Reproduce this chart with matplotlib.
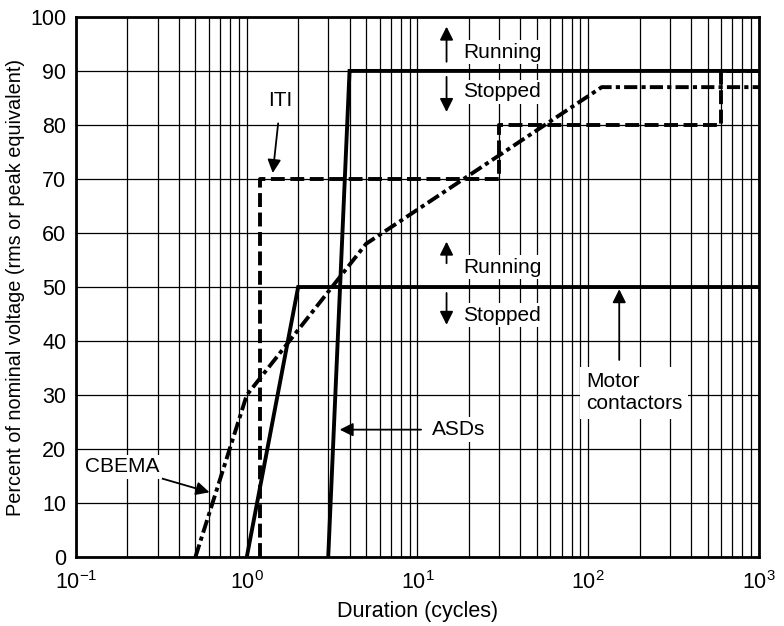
import numpy as np
import matplotlib.pyplot as plt

plt.rcParams['font.family'] = ['Liberation Sans', 'DejaVu Sans']
plt.rcParams['mathtext.fontset'] = 'custom'
plt.rcParams['mathtext.rm'] = 'Liberation Sans'
plt.rcParams['lines.scale_dashes'] = False

# curves (duration in cycles, percent of nominal voltage)
cbema_x = [0.5, 1.0, 5.0, 120, 1000]
cbema_y = [0, 30, 58, 87, 87]
iti_x = [1.2, 1.2, 30, 30, 600, 600, 1000]
iti_y = [0, 70, 70, 80, 80, 90, 90]
asd_x = [3.0, 4.0, 1000]
asd_y = [0, 90, 90]
motor_x = [1.0, 2.0, 1000]
motor_y = [0, 50, 50]

fig = plt.figure(figsize=(7.84, 6.26), dpi=100)
ax = fig.add_axes([0.097, 0.110, 0.871, 0.863])

ax.plot(asd_x, asd_y, color='k', lw=2.8, solid_joinstyle='miter', zorder=4)
ax.plot(motor_x, motor_y, color='k', lw=2.8, solid_joinstyle='miter', zorder=4)
ax.plot(iti_x, iti_y, color='k', lw=2.8, dashes=(10, 4), dash_capstyle='butt', zorder=4)
ax.plot(cbema_x, cbema_y, color='k', lw=2.8, dashes=(9.5, 3, 3, 3), dash_capstyle='butt', zorder=4)

ax.set_xscale('log')
ax.set_xlim(0.1, 1000)
ax.set_ylim(0, 100)
ax.set_yticks(np.arange(0, 101, 10))
ax.grid(True, which='both', axis='x', color='k', lw=0.9)
ax.grid(True, which='major', axis='y', color='k', lw=0.9)
ax.tick_params(which='both', length=0, labelsize=15.5)
ax.tick_params(axis='x', which='both', pad=10)
ax.tick_params(axis='y', which='both', pad=7)
for s in ax.spines.values():
    s.set_linewidth(2)
    s.set_zorder(5)

ax.set_xlabel('Duration (cycles)', fontsize=15.5, labelpad=5)
ax.set_ylabel('Percent of nominal voltage (rms or peak equivalent)', fontsize=14.3, labelpad=4)

box = dict(facecolor='white', edgecolor='none', pad=2)
arr = dict(arrowstyle='-|>', color='k', lw=1.3, mutation_scale=20, shrinkA=0, shrinkB=0)
fs = 15

# running / stopped markers
ax.text(18.5, 93.5, 'Running', fontsize=fs, va='center', ha='left', bbox=box, zorder=6)
ax.text(18.5, 86.1, 'Stopped', fontsize=fs, va='center', ha='left', bbox=box, zorder=6)
ax.text(18.5, 53.7, 'Running', fontsize=fs, va='center', ha='left', bbox=box, zorder=6)
ax.text(18.5, 44.8, 'Stopped', fontsize=fs, va='center', ha='left', bbox=box, zorder=6)
for y0, y1 in [(91.7, 98.2), (88.9, 82.4), (54.4, 58.4), (48.9, 43.0)]:
    ax.annotate('', xy=(14.8, y1), xytext=(14.8, y0), arrowprops=arr, zorder=6)

# curve labels
ax.annotate('ITI', xy=(1.42, 71.1), xytext=(1.58, 84.6), fontsize=fs, ha='center', va='center',
            bbox=box, arrowprops=dict(arr, shrinkA=8), zorder=6)
ax.annotate('CBEMA', xy=(0.605, 12.0), xytext=(0.186, 16.7), fontsize=fs, ha='center', va='center',
            bbox=box, arrowprops=dict(arr, shrinkA=0), zorder=6)
ax.annotate('', xy=(3.5, 23.6), xytext=(10.5, 23.6), arrowprops=arr, zorder=6)
ax.text(12.1, 23.6, 'ASDs', fontsize=fs, ha='left', va='center', bbox=box, zorder=6)
ax.annotate('', xy=(152, 49.6), xytext=(152, 36.5), arrowprops=arr, zorder=6)
ax.text(97, 30.4, 'Motor\ncontactors', fontsize=fs, ha='left', va='center', linespacing=1.2,
        bbox=dict(box, pad=4), zorder=6)

fig.savefig('out.png', dpi=100)
